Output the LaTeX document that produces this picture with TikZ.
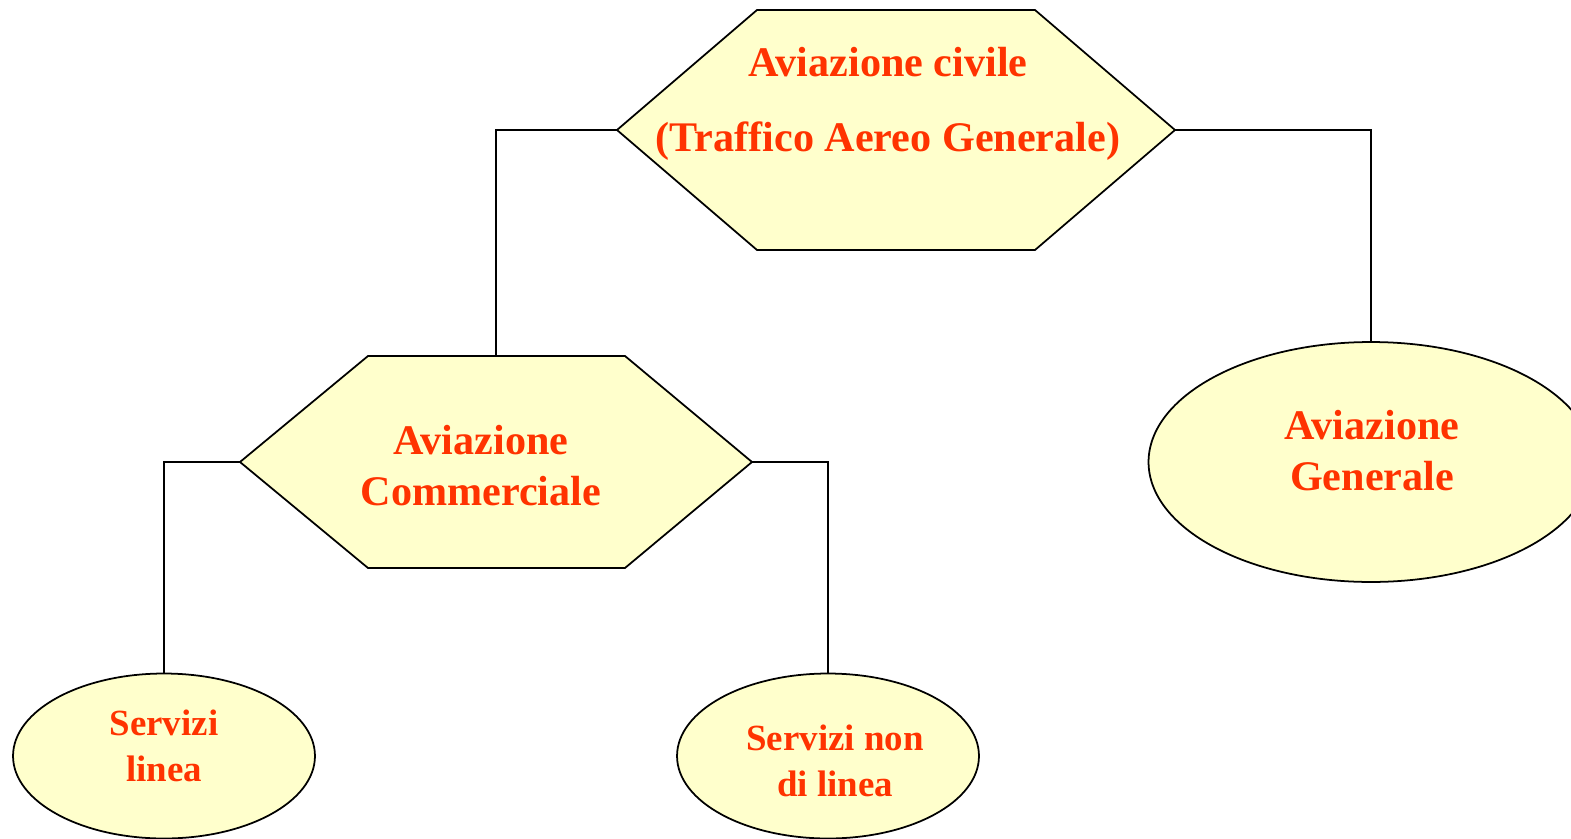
\documentclass[tikz,border=0pt]{standalone}
\usepackage{fontspec}
\setmainfont{Liberation Serif}
\usetikzlibrary{shapes.geometric}
\definecolor{boxfill}{HTML}{FFFFCC}
\definecolor{labelred}{HTML}{FF3300}

\begin{document}
\begin{tikzpicture}[x=0.02cm,y=-0.02cm,line width=1pt,line join=miter,
  hexbox/.style={draw=black,fill=boxfill},
  ovalbox/.style={ellipse,draw=black,fill=boxfill,inner sep=0pt},
  biglabel/.style={text=labelred,align=center,font=\bfseries\fontsize{24}{29}\selectfont},
  smalllabel/.style={text=labelred,align=center,font=\bfseries\fontsize{21}{26}\selectfont}]
\useasboundingbox (0,0) rectangle (1571,838);
% top hexagon
\coordinate (civW) at (617,130);
\coordinate (civE) at (1175,130);
\draw[hexbox] (civW) -- (757,10) -- (1035,10) -- (civE) -- (1035,250) -- (757,250) -- cycle;
\node[biglabel,font=\bfseries\fontsize{24}{43}\selectfont] (civlabel) at (888,104) {Aviazione civile\\(Traffico Aereo Generale)};
% left hexagon
\coordinate (comW) at (240,462);
\coordinate (comE) at (752,462);
\coordinate (comN) at (496,356);
\draw[hexbox] (comW) -- (368,356) -- (625,356) -- (comE) -- (625,568) -- (368,568) -- cycle;
\node[biglabel] (comlabel) at (481,466) {Aviazione\\Commerciale};
% ellipses
\node[ovalbox,minimum width=8.9cm,minimum height=4.8cm] (gen) at (1371,462) {};
\node[biglabel] (genlabel) at (1372,451) {Aviazione\\Generale};
\node[ovalbox,minimum width=6.04cm,minimum height=3.3cm] (linea) at (164,756) {};
\node[smalllabel] (linealabel) at (164,746) {Servizi\\linea};
\node[ovalbox,minimum width=6.04cm,minimum height=3.3cm] (nonlinea) at (828,756) {};
\node[smalllabel] (nonlinealabel) at (835,761) {Servizi non\\di linea};
% connectors
\draw (civW) -| (comN);
\draw (civE) -| (gen.north);
\draw (comW) -| (linea.north);
\draw (comE) -| (nonlinea.north);
\end{tikzpicture}
\end{document}
